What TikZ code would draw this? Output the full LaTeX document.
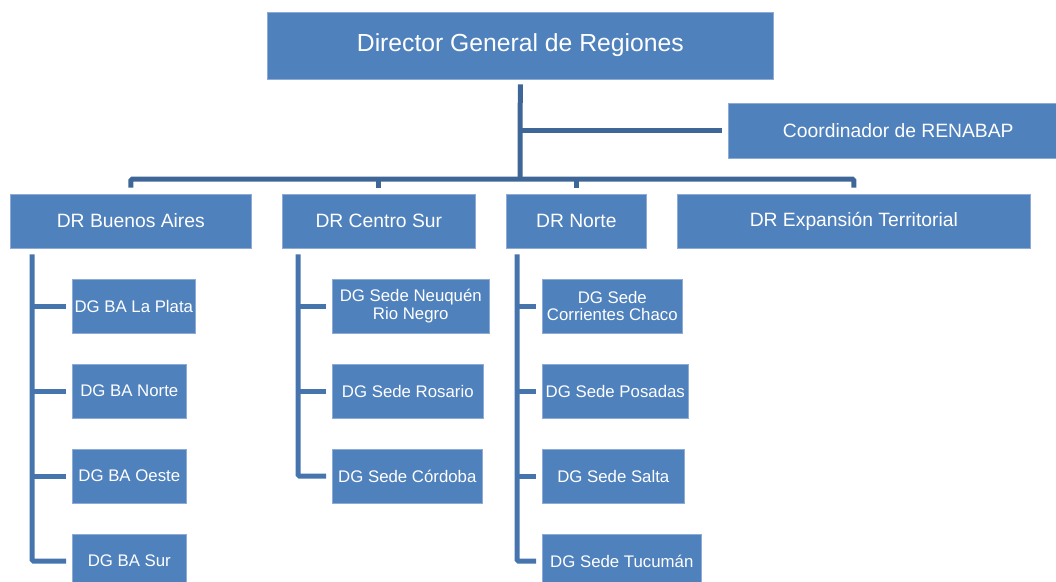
\documentclass[tikz,border=0pt]{standalone}
\usepackage{fontspec}
\setmainfont{Liberation Sans}
\usetikzlibrary{math}
\definecolor{boxblue}{HTML}{4F81BD}
\definecolor{boxedge}{HTML}{8EAAD6}
\definecolor{linkdark}{HTML}{3E6797}
\definecolor{linklight}{HTML}{4675AD}

\begin{document}
\begin{tikzpicture}[x=1pt,y=-1pt,
  unit/.style={fill=boxblue,draw=boxedge,line width=0.6pt,text=white,inner sep=0pt,
    minimum height=54pt,align=center,anchor=west,font=\fontsize{16.8}{17.7}\selectfont},
  region/.style={unit,font=\fontsize{19.3}{22}\selectfont},
  link/.style={draw=linkdark,line width=5pt,rounded corners=1.5pt},
  sublink/.style={link,draw=linklight}]
  \tikzmath{
    real \gap;
    \gap=6;
  }
  \useasboundingbox (0,0) rectangle (1056,581);

  % top of the chart
  \node[unit,minimum width=506pt,minimum height=67pt,font=\fontsize{24.7}{28}\selectfont] (dg) at (267,45.5) {Director General de Regiones};
  \node[region,minimum width=340pt,minimum height=55pt] (ren) at (728,130.5) {Coordinador de RENABAP};

  % regions
  \node[region,minimum width=241pt] (ba) at (10,221) {DR Buenos Aires};
  \node[region,minimum width=193pt] (cs) at (282,221) {DR Centro Sur};
  \node[region,minimum width=140pt] (no) at (506,221) {DR Norte};
  \node[region,minimum width=353pt] (ex) at (677,221) {DR Expansión Territorial};

  % sedes
  \node[unit,minimum width=123pt] (bal) at (72,306) {DG BA La Plata};
  \node[unit,minimum width=114pt] (ban) at (72,391) {DG BA Norte};
  \node[unit,minimum width=114pt] (bao) at (72,476) {DG BA Oeste};
  \node[unit,minimum width=114pt] (bas) at (72,561) {DG BA Sur};
  \node[unit,minimum width=157pt] (csn) at (332,306) {DG Sede Neuquén\\Rio Negro};
  \node[unit,minimum width=151pt] (csr) at (332,391) {DG Sede Rosario};
  \node[unit,minimum width=150pt] (csc) at (332,476) {DG Sede Córdoba};
  \node[unit,minimum width=140pt] (nocc) at (542,306) {DG Sede\\Corrientes Chaco};
  \node[unit,minimum width=146pt] (nopo) at (542,391) {DG Sede Posadas};
  \node[unit,minimum width=142pt] (nosa) at (542,476) {DG Sede Salta};
  \node[unit,minimum width=159pt] (notu) at (542,561) {DG Sede Tucumán};

  % connectors
  \coordinate (bus) at (520,179);
  \draw[link] ([yshift=-5pt]dg.south) -- (bus);
  \draw[link] (dg.south |- ren.west) -- ([xshift=-\gap pt]ren.west);
  \draw[link] ([yshift=\gap pt]ba.north) |- (bus) -| ([yshift=\gap pt]ex.north);
  \foreach \r in {cs,no}
    \draw[link] (\r.north |- bus) -- ([yshift=\gap pt]\r.north);

  \coordinate (bat) at ([shift={(22,\gap)}]ba.south west);
  \coordinate (cst) at ([shift={(16,\gap)}]cs.south west);
  \coordinate (not) at ([shift={(11,\gap)}]no.south west);
  \draw[sublink] (bat) |- ([xshift=-\gap pt]bas.west);
  \draw[sublink] (cst) |- ([xshift=-\gap pt]csc.west);
  \draw[sublink] (not) |- ([xshift=-\gap pt]notu.west);
  \foreach \c in {bal,ban,bao}
    \draw[sublink] (bat |- \c.west) -- ([xshift=-\gap pt]\c.west);
  \foreach \c in {csn,csr}
    \draw[sublink] (cst |- \c.west) -- ([xshift=-\gap pt]\c.west);
  \foreach \c in {nocc,nopo,nosa}
    \draw[sublink] (not |- \c.west) -- ([xshift=-\gap pt]\c.west);
\end{tikzpicture}
\end{document}
